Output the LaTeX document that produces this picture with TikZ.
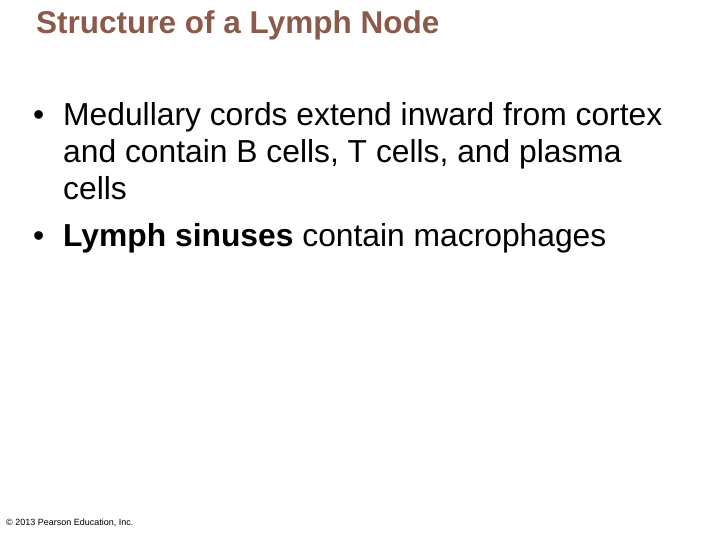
\documentclass[tikz,border=0pt]{standalone}
\usepackage{fontspec}
\setmainfont{Liberation Sans}
\definecolor{titlec}{HTML}{8C5A4A}
\begin{document}
\begin{tikzpicture}[x=1pt,y=-1pt,
  body/.style={anchor=base west,inner sep=0pt,font=\fontsize{31.8}{36}\selectfont},
  bul/.style={anchor=base west,inner sep=0pt,font=\fontsize{31.8}{36}\selectfont}]
\useasboundingbox[fill=white] (0,0) rectangle (720,540);
\node[anchor=base west,inner sep=0pt,text=titlec,font=\fontsize{31.5}{36}\selectfont\bfseries] (t) at (36,34) {Structure of a Lymph Node};
\node[bul] (b1) at (33,126) {•};
\node[body] (l1) at (63,126) {Medullary cords extend inward from cortex};
\node[body] (l2) at (63,163) {and contain B cells, T cells, and plasma};
\node[body] (l3) at (63,200) {cells};
\node[bul] (b2) at (33,247) {•};
\node[body] (l4) at (63,247) {\textbf{Lymph sinuses} contain macrophages};
\node[anchor=base west,inner sep=0pt,font=\fontsize{9}{10}\selectfont] (c) at (6,525) {© 2013 Pearson Education, Inc.};
\end{tikzpicture}
\end{document}
